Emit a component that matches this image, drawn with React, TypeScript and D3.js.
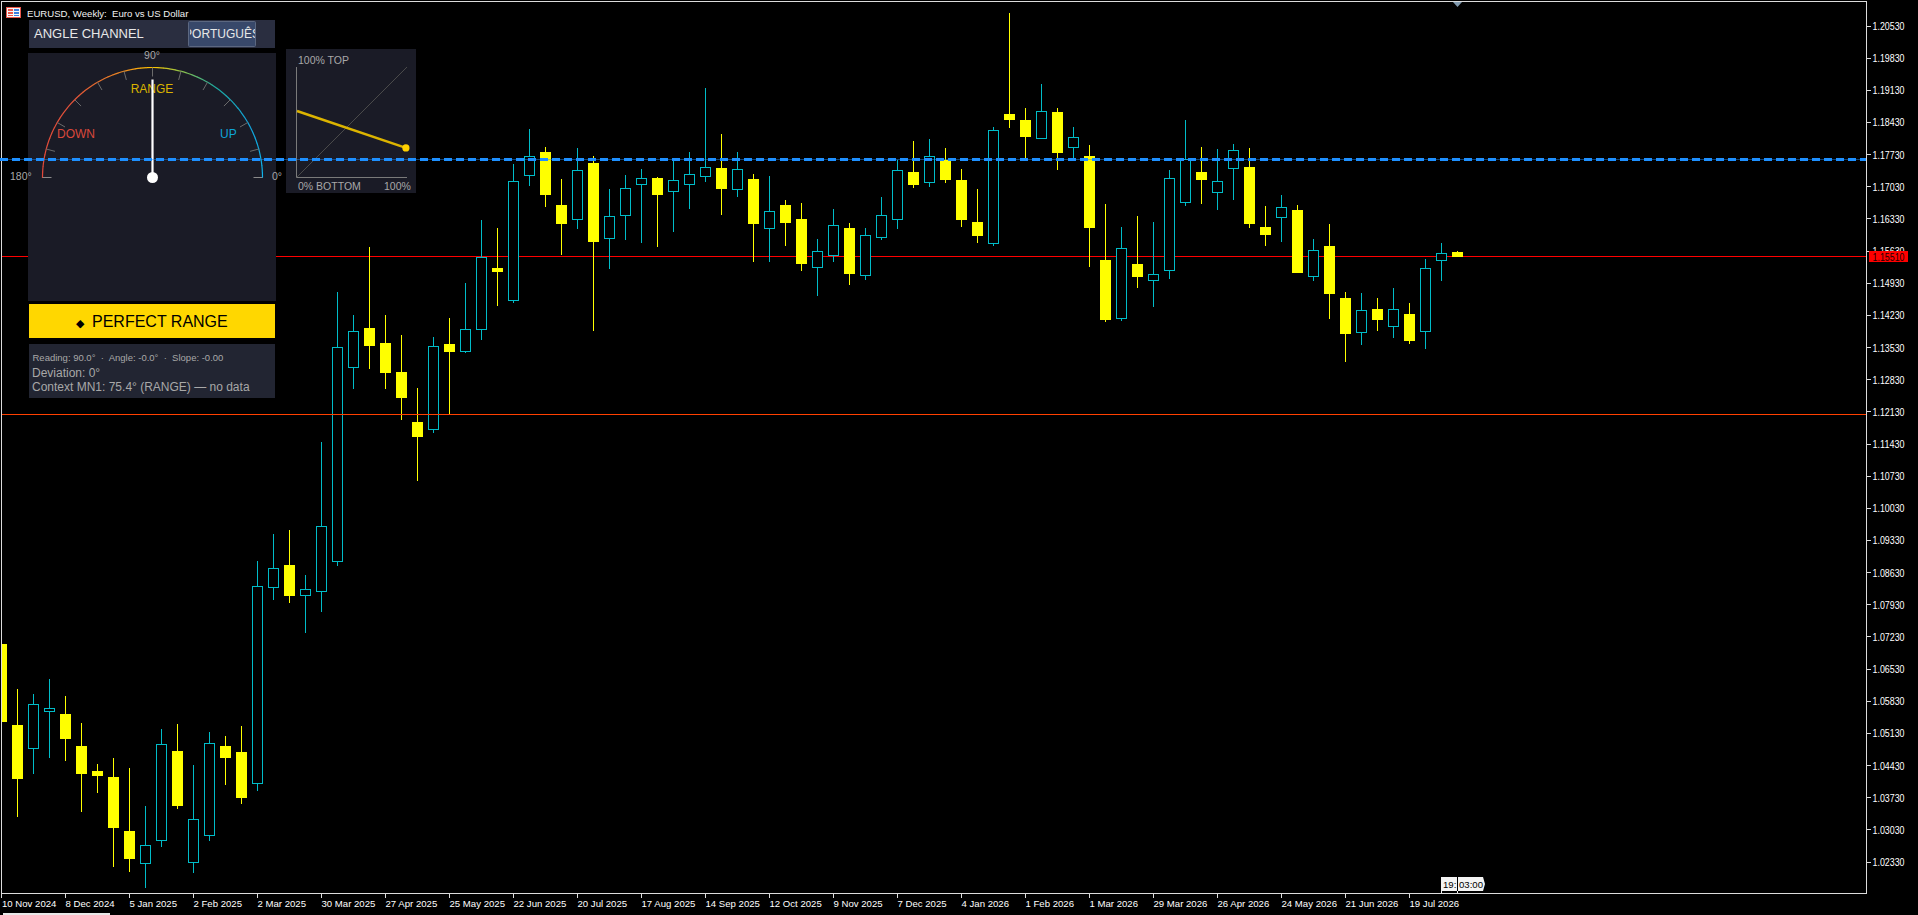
import { useEffect } from 'react';
import * as d3 from 'd3';

// Weekly EURUSD bars, oldest first
const opens = [
	1.07075, 1.05311, 1.048, 1.05605, 1.05551, 1.04854, 1.0431, 1.04179, 1.03003, 1.02296, 1.02797, 1.04745, 1.02318,
	1.02906, 1.04854, 1.04723, 1.04038, 1.08305, 1.08795, 1.08131, 1.08218, 1.08871, 1.13095, 1.13955, 1.13628, 1.12997,
	1.11908, 1.11745, 1.13606, 1.13443, 1.13922, 1.15261, 1.14554, 1.17275, 1.17787, 1.16633, 1.16317, 1.17547, 1.15903,
	1.16404, 1.17079, 1.17221, 1.16927, 1.17079, 1.17253, 1.17438, 1.1697, 1.17199, 1.16121, 1.16633, 1.16328, 1.15272,
	1.15533, 1.16132, 1.15098, 1.15925, 1.16317, 1.17351, 1.17123, 1.17612, 1.17177, 1.16263, 1.15795, 1.18614, 1.18483,
	1.18081, 1.18658, 1.17885, 1.177, 1.15435, 1.14162, 1.15348, 1.14989, 1.15207, 1.16687, 1.17351, 1.16905, 1.17427,
	1.1746, 1.16154, 1.16361, 1.16524, 1.15076, 1.1574, 1.14608, 1.13857, 1.14368, 1.13987, 1.1426, 1.13879, 1.15424,
	1.15609,
];
const highs = [
	1.07075, 1.06095, 1.05986, 1.06313, 1.05943, 1.05355, 1.04462, 1.04593, 1.04375, 1.03548, 1.05224, 1.05333, 1.0444,
	1.05159, 1.05072, 1.0529, 1.08882, 1.0947, 1.09557, 1.08577, 1.11473, 1.14739, 1.14238, 1.15718, 1.14238, 1.13802,
	1.12648, 1.13759, 1.14173, 1.14935, 1.16306, 1.16132, 1.17525, 1.18287, 1.17896, 1.17199, 1.17874, 1.177, 1.16981,
	1.17286, 1.17417, 1.17242, 1.17612, 1.17787, 1.1918, 1.18179, 1.17787, 1.17308, 1.17264, 1.16742, 1.16676, 1.15892,
	1.16546, 1.16241, 1.16132, 1.16807, 1.17612, 1.18026, 1.1807, 1.17874, 1.17417, 1.16981, 1.18331, 1.20813, 1.18745,
	1.19267, 1.18745, 1.18331, 1.17939, 1.16655, 1.16154, 1.16393, 1.16263, 1.17395, 1.18483, 1.17896, 1.17852, 1.17961,
	1.17874, 1.16611, 1.1685, 1.16633, 1.15892, 1.16219, 1.14739, 1.14717, 1.14608, 1.14826, 1.14499, 1.15457, 1.15805,
	1.15631,
];
const lows = [
	1.05377, 1.03308, 1.04244, 1.04593, 1.04528, 1.03417, 1.03831, 1.0222, 1.02111, 1.01762, 1.02655, 1.03482, 1.02089,
	1.02786, 1.04005, 1.03591, 1.03874, 1.08033, 1.07967, 1.07314, 1.07772, 1.08773, 1.12627, 1.13062, 1.12627, 1.11952,
	1.10624, 1.11669, 1.12082, 1.1341, 1.13694, 1.14434, 1.14499, 1.17046, 1.16589, 1.15544, 1.1611, 1.13889, 1.15239,
	1.15871, 1.15805, 1.15718, 1.16045, 1.16546, 1.17134, 1.16415, 1.16807, 1.15392, 1.15392, 1.1574, 1.15196, 1.14651,
	1.15392, 1.14891, 1.15, 1.15871, 1.1611, 1.17003, 1.17025, 1.17112, 1.16154, 1.15805, 1.1574, 1.18309, 1.17656,
	1.1807, 1.17395, 1.17634, 1.15283, 1.14085, 1.14107, 1.14826, 1.14412, 1.15022, 1.16622, 1.16655, 1.16524, 1.16742,
	1.16132, 1.1574, 1.15827, 1.15152, 1.14978, 1.14151, 1.13215, 1.13585, 1.13889, 1.13737, 1.13606, 1.13498, 1.14978,
	1.15501,
];
const closes = [
	1.05377, 1.04136, 1.05758, 1.05671, 1.05006, 1.04244, 1.04201, 1.03069, 1.02394, 1.02688, 1.04887, 1.03548, 1.03254,
	1.04909, 1.04593, 1.03722, 1.08327, 1.08719, 1.0812, 1.08261, 1.09633, 1.1353, 1.13879, 1.13563, 1.12975, 1.12431,
	1.11582, 1.13552, 1.13432, 1.13922, 1.1549, 1.15174, 1.17144, 1.17689, 1.1685, 1.16219, 1.17384, 1.15827, 1.16382,
	1.16992, 1.1721, 1.1685, 1.17166, 1.17297, 1.17449, 1.16981, 1.17406, 1.16219, 1.16491, 1.16241, 1.15348, 1.1562,
	1.16186, 1.1513, 1.15969, 1.16404, 1.17384, 1.17068, 1.17689, 1.17177, 1.16306, 1.15958, 1.18255, 1.18483, 1.18113,
	1.18668, 1.17765, 1.18102, 1.16132, 1.14129, 1.15686, 1.15065, 1.1512, 1.1721, 1.17623, 1.17177, 1.17144, 1.17819,
	1.16219, 1.1598, 1.16578, 1.15152, 1.15642, 1.14695, 1.13824, 1.14336, 1.14129, 1.14358, 1.13672, 1.1525, 1.15577,
	1.1551,
];

const dateLabels = [
	'10 Nov 2024', '8 Dec 2024', '5 Jan 2025', '2 Feb 2025', '2 Mar 2025', '30 Mar 2025', '27 Apr 2025', '25 May 2025',
	'22 Jun 2025', '20 Jul 2025', '17 Aug 2025', '14 Sep 2025', '12 Oct 2025', '9 Nov 2025', '7 Dec 2025', '4 Jan 2026',
	'1 Feb 2026', '1 Mar 2026', '29 Mar 2026', '26 Apr 2026', '24 May 2026', '21 Jun 2026', '19 Jul 2026',
];
const priceTicks = [
	1.2053, 1.1983, 1.1913, 1.1843, 1.1773, 1.1703, 1.1633, 1.1563, 1.1493, 1.1423, 1.1353, 1.1283, 1.1213, 1.1143,
	1.1073, 1.1003, 1.0933, 1.0863, 1.0793, 1.0723, 1.0653, 1.0583, 1.0513, 1.0443, 1.0373, 1.0303, 1.0233,
];

const bidPrice = 1.1551;
const channelTop = 1.17628;
const channelBottom = 1.12076;

// Gauge readings
const gaugeReading = 90;
const gaugeTicks = [165, 150, 135, 120, 105, 90, 75, 60, 45, 30, 15];
const gaugeStops = [180, 135, 105, 90, 75, 55, 30, 0];
const gaugeColors = ['#e2483a', '#e2533a', '#eb8a22', '#ffc400', '#8fc34a', '#1fa9a0', '#12a5dc', '#10b4ea'];

// Position-in-channel inset, percent
const insetX = [0, 99];
const insetY = [60, 26.4];

const UP = '#00bcc8';
const DOWN = '#ffff00';
const AXIS = '#dcdcdc';
const PANEL = '#1a1b26';
const SANS = '"Liberation Sans", Arial, sans-serif';

const crisp = (v: number) => Math.floor(v) + 0.5;

export default function App() {
	useEffect(() => {
		document.body.style.margin = '0';
		document.body.style.background = '#000';
	}, []);

	const x = d3.scaleLinear().domain([0, 91]).range([1.5, 1457.5]);
	const y = d3.scaleLinear().domain([1.2053, 1.0233]).range([26, 862]);

	const cx = 152.5;
	const cy = 177.5;
	const radius = 110;
	const rad = (deg: number) => (deg * Math.PI) / 180;
	const gaugeColor = d3.scaleLinear<string>().domain(gaugeStops).range(gaugeColors);
	const segment = d3.arc();
	const segments = d3.range(0, 180, 3);

	const insetXScale = d3.scaleLinear().domain([0, 100]).range([297, 407]);
	const insetYScale = d3.scaleLinear().domain([0, 100]).range([177, 67]);
	const insetLine = d3
		.line<number>()
		.x((d) => insetXScale(d))
		.y((_, i) => insetYScale(insetY[i]));

	return (
		<svg
			width={1918}
			height={915}
			style={{ position: 'fixed', left: 0, top: 0, display: 'block', background: '#000' }}
			fontFamily={SANS}
		>
			<defs>
				<clipPath id="plot">
					<rect x={2} y={2} width={1864} height={891} />
				</clipPath>
				<clipPath id="langBtn">
					<rect x={190} y={22} width={65} height={24} />
				</clipPath>
			</defs>

			<g clipPath="url(#plot)" shapeRendering="crispEdges">
				<line x1={0} x2={1866} y1={crisp(y(bidPrice))} y2={crisp(y(bidPrice))} stroke="#ff0000" />
				{opens.map((open, i) => {
					const up = closes[i] > open;
					const top = y(Math.max(open, closes[i]));
					const bottom = y(Math.min(open, closes[i]));
					const color = up ? UP : DOWN;
					return (
						<g key={i}>
							<rect
								x={x(i) - 0.5}
								width={1}
								y={Math.round(y(highs[i]))}
								height={Math.max(1, Math.round(y(lows[i])) - Math.round(y(highs[i])))}
								fill={color}
							/>
							{up ? (
								<rect
									x={x(i) - 5}
									width={10}
									y={crisp(top)}
									height={Math.max(1, crisp(bottom) - crisp(top))}
									fill="#000"
									stroke={color}
								/>
							) : (
								<rect
									x={x(i) - 5.5}
									width={11}
									y={Math.round(top)}
									height={Math.max(1, Math.round(bottom) - Math.round(top))}
									fill={color}
								/>
							)}
						</g>
					);
				})}
				<line x1={0} x2={1866} y1={crisp(y(channelBottom))} y2={crisp(y(channelBottom))} stroke="#ff4000" />
			</g>

			{/* frame and axes */}
			<g shapeRendering="crispEdges">
				<rect x={1.5} y={1.5} width={1865} height={892} fill="none" stroke={AXIS} />
				{priceTicks.map((p) => (
					<line key={p} x1={1867} x2={1871} y1={crisp(y(p))} y2={crisp(y(p))} stroke={AXIS} />
				))}
				{dateLabels.map((d, i) => (
					<line key={d} x1={x(i * 4)} x2={x(i * 4)} y1={894} y2={898} stroke={AXIS} />
				))}
				<rect x={3} y={913} width={107} height={2} fill="#e8e8e8" />
			</g>
			<g fontSize={10.5} fill="#fff">
				{priceTicks.map((p) => (
					<text key={p} x={1872.5} y={y(p) + 4} textLength={32} lengthAdjust="spacingAndGlyphs">
						{p.toFixed(5)}
					</text>
				))}
			</g>
			<g fontSize={9.6} fill="#fff">
				{dateLabels.map((d, i) => (
					<text key={d} x={Math.max(2, x(i * 4))} y={906.5}>
						{d}
					</text>
				))}
			</g>

			{/* current price tag */}
			<rect x={1869} y={251} width={39} height={11} fill="#ff0000" shapeRendering="crispEdges" />
			<text x={1872.5} y={260.5} fontSize={10.5} fill="#1a0000" textLength={32} lengthAdjust="spacingAndGlyphs">
				{bidPrice.toFixed(5)}
			</text>

			{/* time flag on the date axis */}
			<path d="M1441,877H1483L1485,884L1483,891H1441Z" fill="#f4f4f4" />
			<g shapeRendering="crispEdges">
				<line x1={1441.5} x2={1441.5} y1={891} y2={893} stroke="#f4f4f4" />
				<line x1={1457.5} x2={1457.5} y1={891} y2={893} stroke="#f4f4f4" />
				<line x1={1457} x2={1457} y1={877} y2={891} stroke="#000" />
			</g>
			<text x={1443} y={887.5} fontSize={9.6} fill="#000">
				19:
			</text>
			<text x={1459} y={887.5} fontSize={9.6} fill="#000">
				03:00
			</text>

			{/* last bar marker */}
			<path d="M1453,2H1462L1457.5,7Z" fill="#7f98ad" />

			{/* symbol caption */}
			<g shapeRendering="crispEdges">
				<rect x={6.5} y={7.5} width={14} height={10} fill="#f8f8f8" stroke="#e8564a" />
				<rect x={8} y={9} width={5} height={2} fill="#e8564a" />
				<rect x={8} y={12} width={5} height={2} fill="#e8564a" />
				<rect x={8} y={15} width={5} height={1} fill="#e8564a" />
				<rect x={14} y={9} width={5} height={2} fill="#3a7ee0" />
				<rect x={14} y={12} width={5} height={2} fill="#3a7ee0" />
				<rect x={14} y={15} width={5} height={1} fill="#3a7ee0" />
			</g>
			<text x={27} y={16.5} fontSize={9.6} fill="#f0f0f0" style={{ whiteSpace: 'pre' }}>
				EURUSD, Weekly:  Euro vs US Dollar
			</text>

			{/* title bar */}
			<rect x={29} y={20} width={246} height={28} fill="#2a2e40" />
			<text x={34} y={38} fontSize={13} fill="#e8e8e8">
				ANGLE CHANNEL
			</text>
			<rect x={188.5} y={21.5} width={67} height={25} rx={1} fill="#38486a" stroke="#5b6780" />
			<text x={222} y={38} fontSize={12} fill="#e8e8e8" textAnchor="middle" clipPath="url(#langBtn)">
				PORTUGUÊS
			</text>

			{/* gauge */}
			<rect x={28} y={53} width={248} height={248} fill={PANEL} />
			{segments.map((a) => (
				<path
					key={a}
					transform={`translate(${cx},${cy})`}
					d={
						segment({
							innerRadius: radius - 0.6,
							outerRadius: radius + 0.6,
							startAngle: rad(90 - a),
							endAngle: rad(90 - a - 3.2),
						}) as string
					}
					fill={gaugeColor(a + 1.5)}
				/>
			))}
			{gaugeTicks.map((a) => (
				<line
					key={a}
					x1={cx + radius * Math.cos(rad(a))}
					y1={cy - radius * Math.sin(rad(a))}
					x2={cx + (radius - 9) * Math.cos(rad(a))}
					y2={cy - (radius - 9) * Math.sin(rad(a))}
					stroke="#6b6b6b"
				/>
			))}
			<line x1={cx - radius} x2={cx - radius + 9} y1={cy} y2={cy} stroke="#8a8a8a" />
			<line x1={cx + radius} x2={cx + radius - 9} y1={cy} y2={cy} stroke="#8a8a8a" />
			<line x1={cx - radius} x2={cx - radius} y1={cy - 2} y2={cy} stroke={gaugeColors[0]} />
			<line x1={cx + radius} x2={cx + radius} y1={cy - 2} y2={cy} stroke={gaugeColors[7]} />
			<text x={cx - 0.5} y={93} fontSize={12} fill="#d9b400" textAnchor="middle">
				RANGE
			</text>
			<line
				x1={cx}
				y1={cy}
				x2={cx + 98 * Math.cos(rad(gaugeReading))}
				y2={cy - 98 * Math.sin(rad(gaugeReading))}
				stroke="#fff"
				strokeWidth={2.2}
			/>
			<circle cx={cx} cy={cy} r={5.5} fill="#fff" />
			<text x={57} y={138} fontSize={12} fill="#d9483b">
				DOWN
			</text>
			<text x={220} y={138} fontSize={12} fill="#0ea5d8">
				UP
			</text>
			<g fontSize={10.5} fill="#a8a8a8">
				<text x={152} y={59} textAnchor="middle">
					90°
				</text>
				<text x={10} y={180}>
					180°
				</text>
				<text x={272} y={180}>
					0°
				</text>
			</g>

			{/* position inset */}
			<rect x={286} y={49} width={130} height={144} fill={PANEL} />
			<line
				x1={insetXScale(0)}
				y1={insetYScale(0)}
				x2={insetXScale(100)}
				y2={insetYScale(100)}
				stroke="#4a4a4a"
			/>
			<path d="M296.5,67V177.5H407" fill="none" stroke="#7a7a7a" />
			<path d={insetLine(insetX) as string} fill="none" stroke="#dcb400" strokeWidth={2.4} />
			<circle cx={insetXScale(insetX[1])} cy={insetYScale(insetY[1])} r={3.6} fill="#ffd000" />
			<g fontSize={10.5} fill="#a8a8a8">
				<text x={298} y={64}>
					100% TOP
				</text>
				<text x={298} y={190}>
					0% BOTTOM
				</text>
				<text x={384} y={190}>
					100%
				</text>
			</g>

			{/* state banner */}
			<rect x={29} y={304} width={246} height={34} fill="#ffd700" />
			<text x={76} y={327} fontSize={11} fill="#000">
				◆
			</text>
			<text x={92} y={327} fontSize={16} fill="#000">
				PERFECT RANGE
			</text>

			{/* readout */}
			<rect x={29} y={344} width={246} height={54} fill="#222532" />
			<text x={32.5} y={360.5} fontSize={9.5} fill="#a8a8a8" style={{ whiteSpace: 'pre' }}>
				Reading: 90.0°  ·  Angle: -0.0°  ·  Slope: -0.00
			</text>
			<text x={32} y={377} fontSize={12} fill="#a8a8a8">
				Deviation: 0°
			</text>
			<text x={32} y={391} fontSize={12} fill="#a8a8a8">
				Context MN1: 75.4° (RANGE) — no data
			</text>

			{/* channel top line runs over the panels */}
			<g shapeRendering="crispEdges">
				<line x1={2} x2={1866} y1={crisp(y(channelTop))} y2={crisp(y(channelTop))} stroke="#1e90ff" strokeOpacity={0.45} />
				<line
					x1={0}
					x2={1866}
					y1={crisp(y(channelTop))}
					y2={crisp(y(channelTop))}
					stroke="#1e90ff"
					strokeWidth={3}
					strokeDasharray="8 4"
				/>
			</g>
		</svg>
	);
}
